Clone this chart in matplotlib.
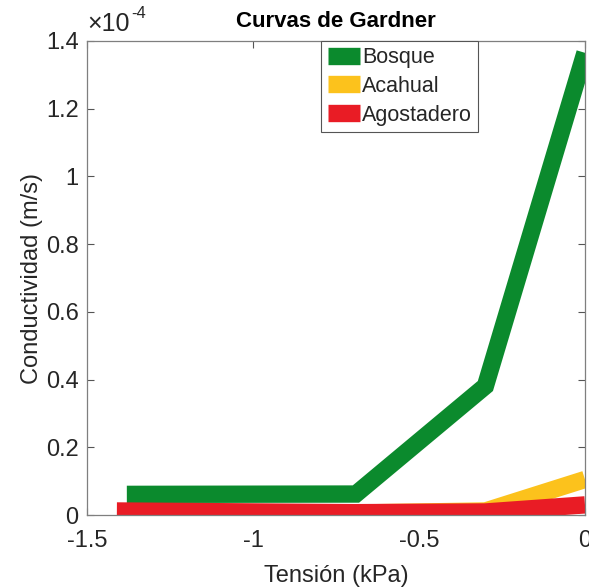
import matplotlib
matplotlib.use("Agg")
import matplotlib.pyplot as plt
from matplotlib.ticker import FuncFormatter

plt.rcParams["font.family"] = ["Liberation Sans", "DejaVu Sans"]
plt.rcParams["axes.unicode_minus"] = False

# Tension (kPa, log scale values) and hydraulic conductivity (m/s)
tension_bosque = [-1.38, -0.69, -0.30, 0.0]
cond_bosque = [0.061e-4, 0.062e-4, 0.381e-4, 1.365e-4]

tension_acahual = [-1.40, -0.69, -0.30, 0.0]
cond_acahual = [0.008e-4, 0.006e-4, 0.012e-4, 0.105e-4]

tension_agost = [-1.41, -0.69, -0.30, 0.0]
cond_agost = [0.012e-4, 0.007e-4, 0.009e-4, 0.030e-4]

names = ["Bosque", "Acahual", "Agostadero"]
colors = ["#0b8a2d", "#fcc21c", "#e91c25"]

xticks = [-1.5, -1, -0.5, 0]
yticks = [0, 0.2e-4, 0.4e-4, 0.6e-4, 0.8e-4, 1.0e-4, 1.2e-4, 1.4e-4]

fig = plt.figure(figsize=(5.89, 5.88), dpi=100)
ax = fig.add_axes([0.1477, 0.1241, 0.8455, 0.8062])

series = [
    (tension_bosque, cond_bosque),
    (tension_acahual, cond_acahual),
    (tension_agost, cond_agost),
]
for (x, y), name, c in zip(series, names, colors):
    ax.plot(x, y, color=c, lw=12.5, label=name,
            solid_capstyle="butt", solid_joinstyle="miter")

ax.set_xlim(-1.5, 0)
ax.set_ylim(0, 1.4e-4)
ax.set_xticks(xticks)
ax.set_yticks(yticks)
ax.xaxis.set_major_formatter(FuncFormatter(lambda v, p: f"{v:g}"))
ax.yaxis.set_major_formatter(FuncFormatter(lambda v, p: f"{v / 1e-4:.1f}".rstrip("0").rstrip(".") if v else "0"))

grey = "#262626"
for s in ax.spines.values():
    s.set_color("#7f7f7f")
    s.set_linewidth(0.9)
ax.tick_params(direction="in", length=5, width=0.8, color="#555555",
               labelsize=17, labelcolor=grey, top=True, right=True)
ax.tick_params(axis="x", pad=11)
ax.tick_params(axis="y", pad=6)

# exponent label above the y axis
ax.text(0.0, 1.01, "×10", transform=ax.transAxes,
        ha="left", va="bottom", fontsize=18, color=grey)
ax.text(0.088, 1.043, "-4", transform=ax.transAxes,
        ha="left", va="bottom", fontsize=12, color=grey)

ax.set_title("Curvas de Gardner", fontsize=16, fontweight="bold", color="black", pad=10)
ax.set_xlabel("Tensión (kPa)", fontsize=17, color=grey, labelpad=9)
ax.set_ylabel("Conductividad (m/s)", fontsize=17, color=grey, labelpad=2)

leg = ax.legend(loc="upper left", bbox_to_anchor=(0.47, 1.0), borderaxespad=0,
                fontsize=15.5, handlelength=1.5, handletextpad=0.1,
                labelspacing=0.35, borderpad=0.3, fancybox=False,
                framealpha=1, edgecolor="#555555")
leg.get_frame().set_linewidth(0.8)
for t in leg.get_texts():
    t.set_color(grey)

fig.savefig("out.png", dpi=100, facecolor="white")
